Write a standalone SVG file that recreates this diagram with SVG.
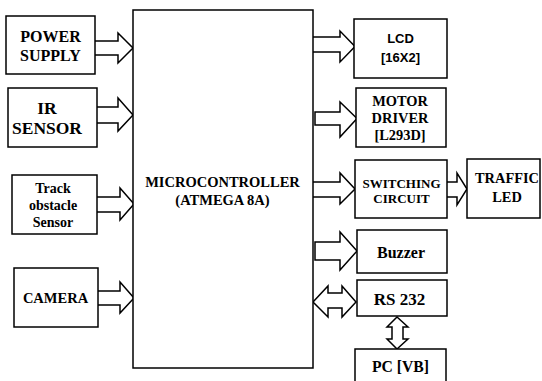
<svg xmlns="http://www.w3.org/2000/svg" width="542" height="381" viewBox="0 0 542 381">
<style>
.box{fill:#fff;stroke:#000;stroke-width:1.5}
.arr{fill:#fff;stroke:#000;stroke-width:1.5;stroke-linejoin:miter}
text{font-weight:bold;text-anchor:middle;fill:#000}
</style>
<rect width="542" height="381" fill="#fff"/>
<g id="connectors">
<path class="arr" d="M95,41 H118 V33 L133,48 L118,63 V55 H95"/>
<path class="arr" d="M97,107 H118 V98 L133,115 L118,131 V123 H97"/>
<path class="arr" d="M97,197 H120 V188 L134,204 L120,220 V212 H97"/>
<path class="arr" d="M98,291 H120 V282 L134,298 L120,313 V305 H98"/>
<path class="arr" d="M313,37 H340 V31 L355,46.5 L340,62 V52 H313"/>
<path class="arr" d="M315,112 H340 V102 L357,118.5 L340,137 V125 H315 Z"/>
<path class="arr" d="M313,182 H340 V173 L355,189 L340,204 V197 H313"/>
<path class="arr" d="M447,182 H457 V173 L467,189 L457,205 V197 H447"/>
<path class="arr" d="M315,242 H340 V232 L357,251 L340,270 V260 H315 Z"/>
<path class="arr" d="M313,302 L328,286 V293 H342 V286 L356,302 L342,317 V308 H328 V317 Z"/>
<path class="arr" d="M397,317 L408,327 H403 V339 H408 L397,349 L387,339 H392 V327 H387 Z"/>
</g>
<g font-family="Liberation Serif, DejaVu Serif, serif">
<g id="power"><rect class="box" x="6" y="16" width="89" height="58"/><text font-size="16" x="50.5" y="42">POWER</text><text font-size="16" x="50.5" y="61">SUPPLY</text></g>
<g id="ir"><rect class="box" x="8" y="88" width="89" height="59"/><text font-size="17.5" x="47" y="114">IR</text><text font-size="17.5" x="47" y="134">SENSOR</text></g>
<g id="track"><rect class="box" x="12" y="175" width="85" height="59"/><text font-size="14" x="53" y="193">Track</text><text font-size="14" x="53" y="210">obstacle</text><text font-size="14" x="53" y="227">Sensor</text></g>
<g id="camera"><rect class="box" x="14" y="268" width="84" height="59"/><text font-size="14.5" x="55.5" y="303">CAMERA</text></g>
<g id="mcu"><rect class="box" x="133" y="10" width="180" height="358"/><text font-size="14.5" x="222.5" y="187">MICROCONTROLLER</text><text font-size="14.5" x="222.5" y="205">(ATMEGA 8A)</text></g>
<g id="lcd" font-family="Liberation Sans, Arial, sans-serif"><rect class="box" x="354" y="19" width="93" height="59"/><text font-size="13" x="400.5" y="43">LCD</text><text font-size="13" x="400.5" y="62">[16X2]</text></g>
<g id="motor"><rect class="box" x="356" y="88" width="90" height="59"/><text font-size="14.4" x="400" y="106">MOTOR</text><text font-size="14.4" x="400" y="123">DRIVER</text><text font-size="14.4" x="400" y="140">[L293D]</text></g>
<g id="switching"><rect class="box" x="355" y="160" width="92" height="58"/><text font-size="13" x="401.5" y="187.5">SWITCHING</text><text font-size="13" x="401.5" y="203">CIRCUIT</text></g>
<g id="traffic"><rect class="box" x="467" y="159" width="73" height="59"/><text font-size="14.4" x="507" y="183">TRAFFIC</text><text font-size="14.4" x="507" y="202">LED</text></g>
<g id="buzzer"><rect class="box" x="357" y="230" width="90" height="43"/><text font-size="16" x="401" y="258">Buzzer</text></g>
<g id="rs232"><rect class="box" x="357" y="280" width="90" height="36"/><text font-size="17" x="399.5" y="305">RS 232</text></g>
<g id="pc"><rect class="box" x="355" y="349" width="91" height="36"/><text font-size="15.7" x="400.5" y="372">PC [VB]</text></g>
</g>
</svg>
